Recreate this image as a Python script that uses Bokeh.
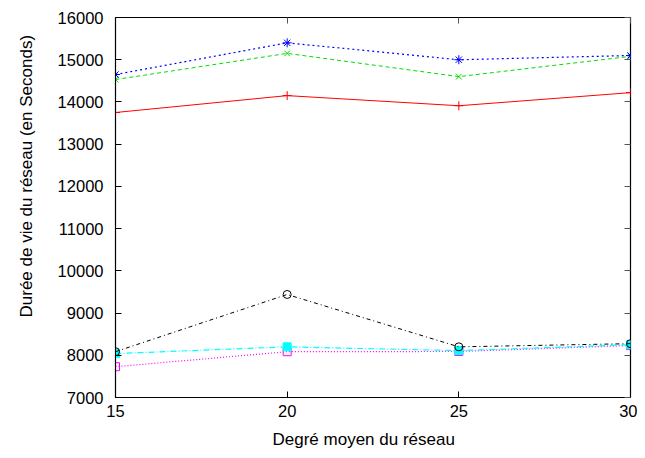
from bokeh.plotting import figure
from bokeh.models import LinearAxis, FixedTicker, Range1d, Title
from bokeh.embed import file_html
from bokeh.resources import INLINE

x = [15, 20, 25, 30]
blue = [14650, 15400, 15000, 15100]
green = [14530, 15150, 14600, 15080]
red = [13750, 14150, 13910, 14220]
black = [8085, 9440, 8200, 8275]
cyan = [8040, 8200, 8110, 8250]
magenta = [7730, 8085, 8090, 8230]

x_ticks = [15, 20, 25, 30]
y_ticks = list(range(7000, 16001, 1000))

x_title = "Degré moyen du réseau"
y_title = "Durée de vie du réseau (en Seconds)"

FONT = "Liberation Sans"

p = figure(width=637, height=456, output_backend="svg", toolbar_location=None,
           x_range=Range1d(15, 30), y_range=Range1d(7000, 16000),
           min_border_left=115, min_border_right=7, min_border_top=17, min_border_bottom=59)
p.xgrid.visible = False
p.ygrid.visible = False
p.outline_line_color = "black"
p.outline_line_width = 1.2
p.background_fill_color = "white"

for ax, ticks in ((p.xaxis[0], x_ticks), (p.yaxis[0], y_ticks)):
    ax.ticker = FixedTicker(ticks=ticks)
    ax.major_tick_in = 6
    ax.major_tick_out = 0
    ax.minor_tick_line_color = None
    ax.axis_line_color = "black"
    ax.major_label_text_font = FONT
    ax.major_label_text_font_size = "16.5px"
    ax.major_label_text_color = "black"

p.xaxis.major_label_standoff = 7
p.yaxis.major_label_standoff = 12

# mirror ticks
r_ax = LinearAxis(ticker=FixedTicker(ticks=y_ticks), major_tick_in=6, major_tick_out=0,
                  minor_tick_line_color=None, major_label_overrides={t: "" for t in y_ticks},
                  major_label_standoff=0, axis_line_color=None, major_tick_line_color="#555555")
t_ax = LinearAxis(ticker=FixedTicker(ticks=x_ticks), major_tick_in=6, major_tick_out=0,
                  minor_tick_line_color=None, major_label_overrides={t: "" for t in x_ticks},
                  major_label_standoff=0, axis_line_color=None, major_tick_line_color="#555555")
p.add_layout(r_ax, "right")
p.add_layout(t_ax, "above")

# axis titles, placed slightly off-centre as in the reference
p.add_layout(Title(text=x_title, text_font=FONT, text_font_size="17px", text_font_style="normal",
                   text_color="black", align="left", offset=157, standoff=16), "below")
p.add_layout(Title(text=y_title, text_font=FONT, text_font_size="17px", text_font_style="normal",
                   text_color="black", align="left", offset=80, standoff=33,
                   vertical_align="top"), "left")

p.line(x, red, line_color="red", line_width=1)
p.scatter(x, red, marker="cross", size=9, line_color="red", fill_color=None)

p.line(x, green, line_color="#00dd00", line_width=1, line_dash="4 3")
p.scatter(x, green, marker="x", size=8, line_color="#00dd00", fill_color=None)

p.line(x, blue, line_color="blue", line_width=1.2, line_dash="2 3")
p.scatter(x, blue, marker="asterisk", size=9, line_color="blue", fill_color=None)

p.line(x, magenta, line_color="magenta", line_width=1.2, line_dash="1 2")
p.scatter(x, magenta, marker="square", size=8, line_color="magenta", fill_color=None)

p.line(x, cyan, line_color="cyan", line_width=1.2, line_dash="6 2 1 2")
p.scatter(x, cyan, marker="square", size=8, line_color="cyan", fill_color="cyan")

p.line(x, black, line_color="black", line_width=1, line_dash="4 3 1 3")
p.scatter(x, black, marker="circle", size=8, line_color="black", fill_color=None)

open("out.html", "w").write(file_html(p, INLINE))
